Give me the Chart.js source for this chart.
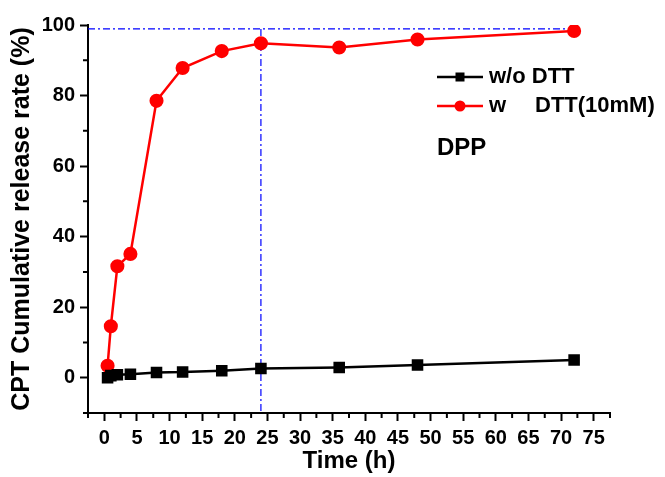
<!DOCTYPE html>
<html>
<head>
  <title>CPT Release</title>
  <script src="https://cdn.jsdelivr.net/npm/chart.js"></script>
  <style>
    body { margin: 0; background: #fff; }
  </style>
</head>
<body>
<canvas id="releaseChart" width="665" height="477"></canvas>

<script>
  // data
  const timeH = [0.5, 1, 2, 4, 8, 12, 18, 24, 36, 48, 72];
  const withoutDTT = [0, 0.6, 0.85, 1.0, 1.5, 1.6, 2.0, 2.6, 2.9, 3.6, 5.0];
  const withDTT = [3.4, 14.6, 31.6, 35.1, 78.5, 87.8, 92.6, 94.8, 93.6, 95.9, 98.3];
  const seriesNames = ['w/o DTT', 'w', 'DTT(10mM)'];
  const xTicks = [0, 5, 10, 15, 20, 25, 30, 35, 40, 45, 50, 55, 60, 65, 70, 75];
  const yTicks = [0, 20, 40, 60, 80, 100];
  const guideX = [-2.5, 72];   // horizontal dash-dot line
  const guideY = [98.9, -10];  // vertical dash-dot line at 24 h
  const guideLevel = 98.9;
  const guideTime = 24;

  const font = 'Liberation Sans, Arial, sans-serif';

  function pts(xs, ys) {
    return xs.map((x, i) => ({ x: x, y: ys[i] }));
  }

  // minor ticks and the in-plot legend
  const extras = {
    id: 'extras',
    afterDraw(chart) {
      const ctx = chart.ctx;
      const xs = chart.scales.x, ys = chart.scales.y;
      const area = chart.chartArea;
      ctx.save();
      ctx.strokeStyle = '#000';
      ctx.lineWidth = 2;
      ctx.beginPath();
      for (let i = 0; i < xTicks.length; i++) {
        [xTicks[i] - 2.5, xTicks[i] + 2.5].forEach(v => {
          if (v < xs.min || v > xs.max) return;
          const px = xs.getPixelForValue(v);
          ctx.moveTo(px, area.bottom);
          ctx.lineTo(px, area.bottom + 5);
        });
      }
      for (let i = 0; i < yTicks.length; i++) {
        const v = yTicks[i] - 10;
        if (v < ys.min) continue;
        const py = ys.getPixelForValue(v);
        ctx.moveTo(area.left, py);
        ctx.lineTo(area.left - 5, py);
      }
      ctx.stroke();

      // legend
      const lx = 437, lw = 46;
      const rows = [77, 106];
      ctx.lineWidth = 2.5;
      ctx.strokeStyle = '#000';
      ctx.beginPath(); ctx.moveTo(lx, rows[0]); ctx.lineTo(lx + lw, rows[0]); ctx.stroke();
      ctx.fillStyle = '#000';
      ctx.fillRect(lx + lw / 2 - 4.5, rows[0] - 4.5, 9, 9);
      ctx.strokeStyle = '#ff0000';
      ctx.beginPath(); ctx.moveTo(lx, rows[1]); ctx.lineTo(lx + lw, rows[1]); ctx.stroke();
      ctx.fillStyle = '#ff0000';
      ctx.beginPath(); ctx.arc(lx + lw / 2, rows[1], 5.5, 0, Math.PI * 2); ctx.fill();

      ctx.fillStyle = '#000';
      ctx.font = 'bold 22px ' + font;
      ctx.textBaseline = 'middle';
      ctx.fillText(seriesNames[0], 489, rows[0]);
      ctx.fillText(seriesNames[1], 489, rows[1]);
      ctx.fillText(seriesNames[2], 535, rows[1]);
      ctx.font = 'bold 24px ' + font;
      ctx.fillText('DPP', 437, 148);
      ctx.restore();
    }
  };

  const ctx = document.getElementById('releaseChart').getContext('2d');
  new Chart(ctx, {
    type: 'scatter',
    data: {
      datasets: [
        {
          label: seriesNames[0],
          data: pts(timeH, withoutDTT),
          showLine: true,
          borderColor: '#000',
          backgroundColor: '#000',
          borderWidth: 2.5,
          pointStyle: 'rect',
          pointRadius: 6.4,
          pointHoverRadius: 6.4
        },
        {
          label: 'w DTT(10mM)',
          data: pts(timeH, withDTT),
          showLine: true,
          borderColor: '#ff0000',
          backgroundColor: '#ff0000',
          borderWidth: 2.5,
          pointStyle: 'circle',
          pointRadius: 5.8,
          pointHoverRadius: 5.8
        },
        {
          label: 'guide h',
          data: pts(guideX, [guideLevel, guideLevel]),
          showLine: true,
          borderColor: '#0000ff',
          borderWidth: 1.2,
          borderDash: [7, 3, 2, 3],
          pointRadius: 0
        },
        {
          label: 'guide v',
          data: pts([guideTime, guideTime], guideY),
          showLine: true,
          borderColor: '#0000ff',
          borderWidth: 1.2,
          borderDash: [7, 3, 2, 3],
          pointRadius: 0
        }
      ]
    },
    options: {
      responsive: false,
      animation: false,
      layout: { padding: { top: 25, right: 55, left: 0, bottom: 0 } },
      plugins: { legend: { display: false }, tooltip: { enabled: false } },
      scales: {
        x: {
          type: 'linear',
          min: -2.5,
          max: 77.5,
          afterBuildTicks: s => { s.ticks = xTicks.map(v => ({ value: v })); },
          afterFit: s => { s.height = 64; },
          grid: { display: true, drawOnChartArea: false, drawTicks: true, tickLength: 8, tickWidth: 2, tickColor: '#000' },
          border: { display: true, width: 2, color: '#000' },
          ticks: { autoSkip: false, maxRotation: 0, padding: 5, color: '#000', font: { family: font, size: 20, weight: 'bold' } },
          title: { display: true, text: 'Time (h)', color: '#000', padding: { top: 0, bottom: 1 }, font: { family: font, size: 24, weight: 'bold' } }
        },
        y: {
          min: -10,
          max: 100,
          afterBuildTicks: s => { s.ticks = yTicks.map(v => ({ value: v })); },
          afterFit: s => { s.width = 88; },
          grid: { display: true, drawOnChartArea: false, drawTicks: true, tickLength: 8, tickWidth: 2, tickColor: '#000' },
          border: { display: true, width: 2, color: '#000' },
          ticks: { padding: 5, color: '#000', font: { family: font, size: 20, weight: 'bold' } },
          title: { display: true, text: 'CPT Cumulative release rate (%)', color: '#000', padding: { top: 7, bottom: 0 }, font: { family: font, size: 25, weight: 'bold' } }
        }
      }
    },
    plugins: [extras]
  });
</script>
</body>
</html>
